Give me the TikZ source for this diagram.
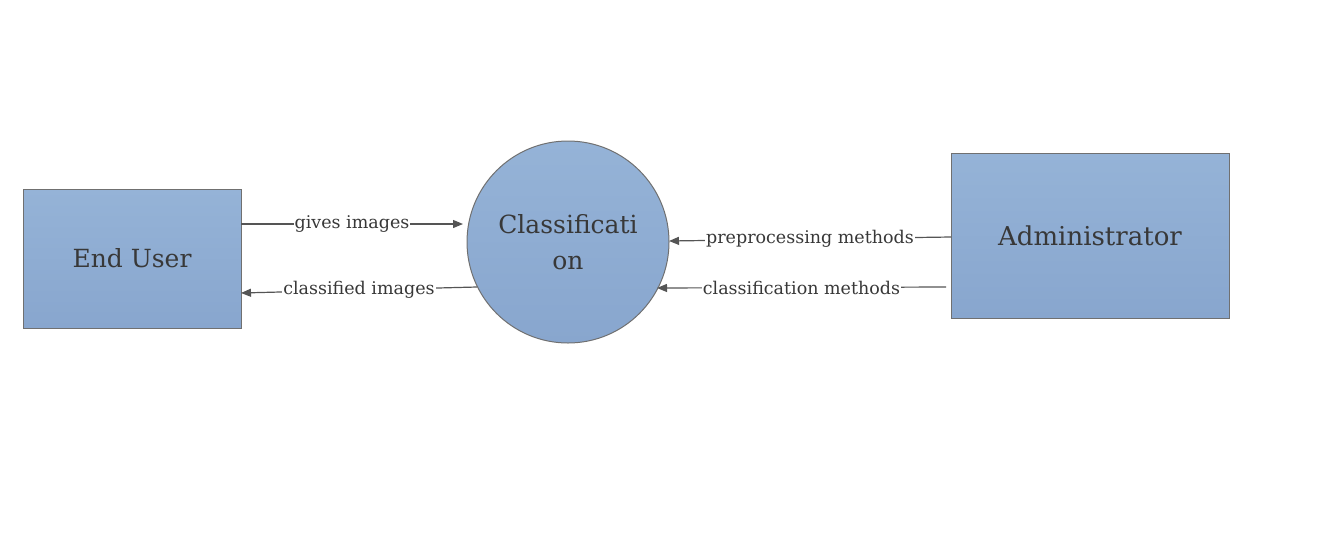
\documentclass[tikz,border=0pt]{standalone}
\usepackage{fontspec}
\setmainfont{DejaVu Serif}
\usetikzlibrary{arrows.meta}
\definecolor{fillTop}{HTML}{95B3D7}
\definecolor{fillBot}{HTML}{88A6CE}
\definecolor{edgecol}{HTML}{707070}
\definecolor{txtcol}{HTML}{383838}
\definecolor{conncol}{HTML}{555555}
\begin{document}
\begin{tikzpicture}[x=1pt,y=-1pt,
  entity/.style={draw=edgecol, line width=1pt, top color=fillTop, bottom color=fillBot,
    inner sep=0pt, font=\fontsize{25}{30}\selectfont, text=txtcol},
  process/.style={entity, circle, minimum size=202pt, align=center,
    font=\fontsize{25}{36}\selectfont},
  flow/.style={draw=conncol, line width=1.2pt, -{Triangle[length=10pt,width=8pt]}},
  flowlabel/.style={fill=white, inner sep=1pt, text=txtcol, font=\fontsize{17.5}{20}\selectfont}
]
\useasboundingbox (0,0) rectangle (1327,536);
\node[entity, minimum width=218pt, minimum height=139pt] (eu) at (132,258.5) {End User};
\node[process] (cl) at (568,242) {Classificati\\on};
\node[entity, minimum width=278pt, minimum height=165pt, font=\fontsize{26}{30}\selectfont] (ad) at (1090,235.5) {Administrator};

\coordinate (g1) at (241,224);
\coordinate (g2) at (463,224);
\coordinate (c1) at (477,287);
\coordinate (c2) at (241,293);
\coordinate (p1) at (951,237);
\coordinate (p2) at (669,241);
\coordinate (m1) at (946,287);
\coordinate (m2) at (657,288);

\draw[flow] (g1) -- node[flowlabel] (lg) {gives images} (g2);
\draw[flow] (c1) -- node[flowlabel] (lc) {classified images} (c2);
\draw[flow] (p1) -- node[flowlabel] (lp) {preprocessing methods} (p2);
\draw[flow] (m1) -- node[flowlabel] (lm) {classification methods} (m2);
\end{tikzpicture}
\end{document}
